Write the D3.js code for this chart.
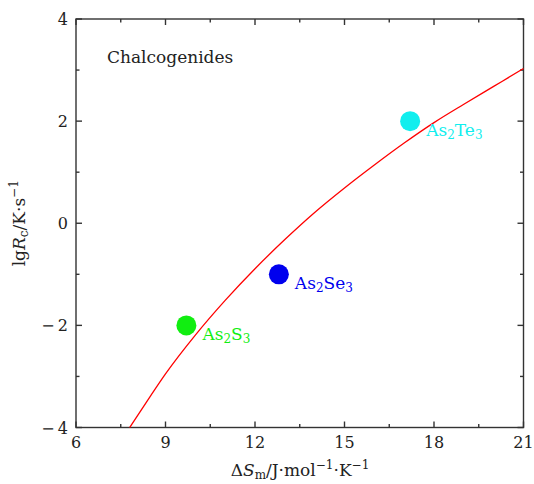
<!DOCTYPE html>
<html>
<head>
<meta charset="utf-8">
<script src="https://cdn.jsdelivr.net/npm/d3@7"></script>
<style>
  body { margin: 0; background: #fff; }
  svg text { font-family: "DejaVu Serif", "Liberation Serif", "Noto Serif", serif; }
</style>
</head>
<body>
<div id="chart"></div>
<script>
const width = 534;
const height = 484;
const margin = ({top: 19, right: 10, bottom: 56, left: 76});

// data
const xTicks = [6, 9, 12, 15, 18, 21];
const yTicks = [-4, -2, 0, 2, 4];
const compounds = ["As2S3", "As2Se3", "As2Te3"];
const compoundX = [9.7, 12.8, 17.2];
const compoundY = [-2, -1, 2];
const compoundColor = ["#11ee11", "#0000ee", "#11eeee"];
const curveX = [7.8, 8.5, 9, 10, 11, 12, 13, 14, 15, 16, 17, 18, 19, 20, 21];
const curveY = [-4.0, -3.38, -2.95, -2.19, -1.51, -0.89, -0.32, 0.21, 0.69, 1.14, 1.57, 1.97, 2.33, 2.68, 3.03];

const svg = d3.select("#chart").append("svg")
  .attr("width", width)
  .attr("height", height);

const x = d3.scaleLinear()
  .domain([6, 21])
  .range([margin.left, width - margin.right - 0.5]);

const y = d3.scaleLinear()
  .domain([-4, 4])
  .range([height - margin.bottom - 0.5, margin.top]);

const minorX = d3.range(6, 21.01, 1.5);
const minorY = d3.range(-4, 4.01, 1);

// ticks on all four sides, pointing inward
const axisColor = "#333";
const frame = svg.append("g").attr("stroke", axisColor).attr("stroke-width", 1.4);

frame.append("rect")
  .attr("x", x(6)).attr("y", y(4))
  .attr("width", x(21) - x(6)).attr("height", y(-4) - y(4))
  .attr("fill", "none");

minorX.forEach(v => {
  const len = xTicks.includes(v) ? 6 : 3.5;
  frame.append("line").attr("x1", x(v)).attr("x2", x(v)).attr("y1", y(-4)).attr("y2", y(-4) - len);
  frame.append("line").attr("x1", x(v)).attr("x2", x(v)).attr("y1", y(4)).attr("y2", y(4) + len);
});
minorY.forEach(v => {
  const len = yTicks.includes(v) ? 6 : 3.5;
  frame.append("line").attr("y1", y(v)).attr("y2", y(v)).attr("x1", x(6)).attr("x2", x(6) + len);
  frame.append("line").attr("y1", y(v)).attr("y2", y(v)).attr("x1", x(21)).attr("x2", x(21) - len);
});

svg.append("g")
  .selectAll("text")
  .data(xTicks)
  .join("text")
    .attr("x", d => x(d))
    .attr("y", y(-4) + 20)
    .attr("text-anchor", "middle")
    .attr("font-size", 16)
    .attr("fill", "#222")
    .text(d => d);

svg.append("g")
  .selectAll("text")
  .data(yTicks)
  .join("text")
    .attr("x", x(6) - 8)
    .attr("y", d => y(d) + 6)
    .attr("text-anchor", "end")
    .attr("font-size", 16)
    .attr("fill", "#222")
    .text(d => d < 0 ? "\u2212\u2009" + Math.abs(d) : d);

// fitted curve
const line = d3.line()
  .x(d => x(d[0]))
  .y(d => y(d[1]))
  .curve(d3.curveMonotoneX);

const plot = svg.append("g");

plot.append("path")
  .datum(curveX.map((v, i) => [v, curveY[i]]))
  .attr("fill", "none")
  .attr("stroke", "#ff0000")
  .attr("stroke-width", 1.3)
  .attr("d", line);

compounds.forEach((name, i) => {
  plot.append("circle")
    .attr("cx", x(compoundX[i]))
    .attr("cy", y(compoundY[i]))
    .attr("r", 10)
    .attr("fill", compoundColor[i]);

  const parts = name.match(/[A-Za-z]+|\d/g);
  const t = plot.append("text")
    .attr("x", x(compoundX[i]) + 16)
    .attr("y", y(compoundY[i]) + 15)
    .attr("font-size", 17)
    .attr("fill", compoundColor[i]);
  parts.forEach((p, j) => {
    if (/\d/.test(p)) {
      t.append("tspan").attr("font-size", 12).attr("dy", 3).text(p);
    } else {
      t.append("tspan").attr("dy", j ? -3 : 0).text(p);
    }
  });
});

svg.append("text")
  .attr("x", 107)
  .attr("y", 63)
  .attr("font-size", 17)
  .attr("fill", "#222")
  .text("Chalcogenides");

// axis titles
const xl = svg.append("text")
  .attr("x", 300)
  .attr("y", 476)
  .attr("text-anchor", "middle")
  .attr("font-size", 17)
  .attr("fill", "#222");
xl.append("tspan").text("\u0394");
xl.append("tspan").attr("font-style", "italic").text("S");
xl.append("tspan").attr("font-size", 12).attr("dy", 3).text("m");
xl.append("tspan").attr("dy", -3).text("/J\u00b7mol");
xl.append("tspan").attr("font-size", 12).attr("dy", -7).text("\u22121");
xl.append("tspan").attr("dy", 7).text("\u00b7K");
xl.append("tspan").attr("font-size", 12).attr("dy", -7).text("\u22121");

const yl = svg.append("text")
  .attr("transform", `translate(25,${(y(4) + y(-4)) / 2}) rotate(-90)`)
  .attr("text-anchor", "middle")
  .attr("font-size", 17)
  .attr("fill", "#222");
yl.append("tspan").text("lg");
yl.append("tspan").attr("font-style", "italic").text("R");
yl.append("tspan").attr("font-size", 12).attr("dy", 3).text("c");
yl.append("tspan").attr("dy", -3).text("/K\u00b7s");
yl.append("tspan").attr("font-size", 12).attr("dy", -7).text("\u22121");
</script>
</body>
</html>
